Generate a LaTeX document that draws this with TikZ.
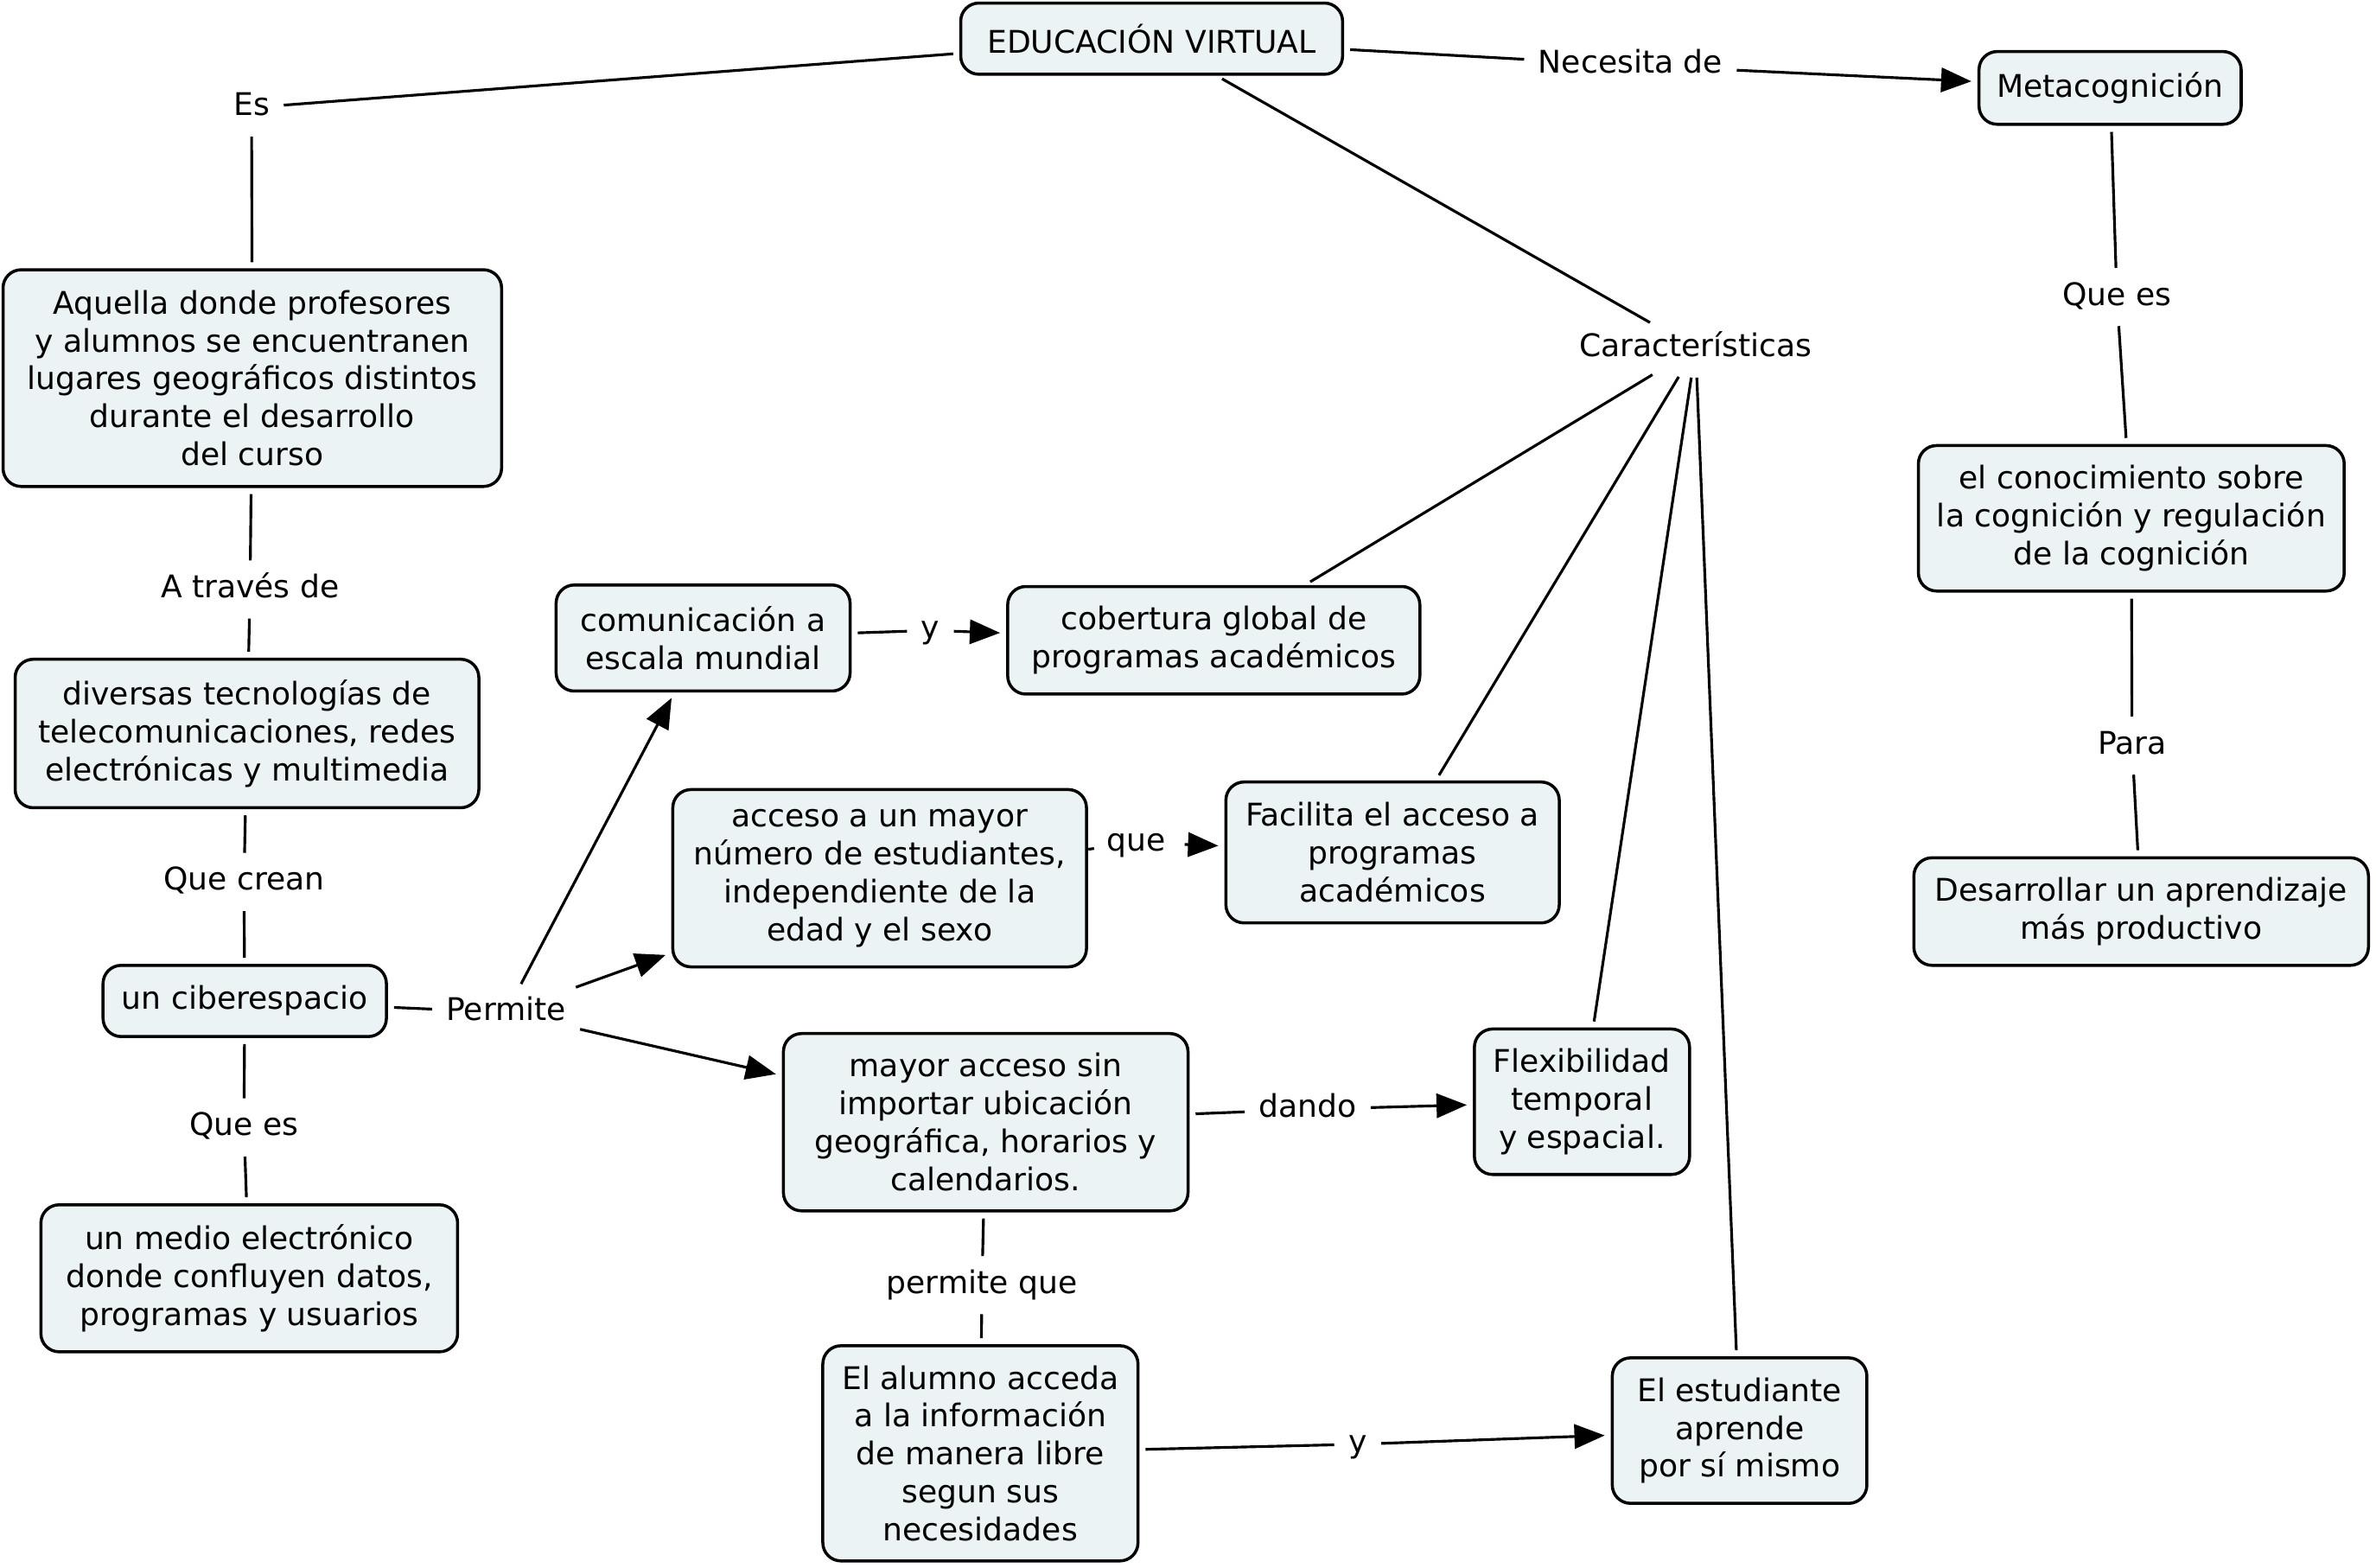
\documentclass[tikz,border=0pt]{standalone}
\usepackage{fontspec}
\setmainfont{DejaVu Sans}
\usetikzlibrary{arrows.meta}
\definecolor{boxfill}{RGB}{235,243,245}
\begin{document}
\begin{tikzpicture}[x=0.5pt,y=-0.5pt,
 box/.style={draw,line width=1pt,rounded corners=6pt,fill=boxfill,align=center,inner sep=0pt,font=\fontsize{10.3}{12.5}\selectfont},
 lab/.style={inner sep=2.5pt,font=\fontsize{10.3}{12.5}\selectfont,text height=7.6pt,text depth=2.2pt},
 conn/.style={line width=0.9pt,shorten <=2pt,shorten >=2pt},
 arr/.style={conn,-{Triangle[length=10pt,width=8pt]}}]
\useasboundingbox (0,0) rectangle (1568,1034.6);

% boxes
\node[box,minimum width=126pt,minimum height=23.5pt] (edu) at (760,25.5) {EDUCACIÓN VIRTUAL};
\node[box,minimum width=86.5pt,minimum height=24pt] (meta) at (1392.5,58) {Metacognición};
\node[box,minimum width=164.5pt,minimum height=71.5pt] (aquella) at (166.5,249.5) {Aquella donde profesores\\ y alumnos se encuentranen\\ lugares geográficos distintos\\ durante el desarrollo\\ del curso};
\node[box,minimum width=153pt,minimum height=49pt] (diversas) at (163,484) {diversas tecnologías de\\ telecomunicaciones, redes\\ electrónicas y multimedia};
\node[box,minimum width=93.5pt,minimum height=23.5pt] (ciber) at (161.5,660.5) {un ciberespacio};
\node[box,minimum width=137.5pt,minimum height=48.5pt] (medio) at (164.5,843.5) {un medio electrónico\\ donde confluyen datos,\\ programas y usuarios};
\node[box,minimum width=97pt,minimum height=35pt] (comun) at (464,421) {comunicación a\\ escala mundial};
\node[box,minimum width=136pt,minimum height=35.5pt] (cobert) at (801,422.5) {cobertura global de\\ programas académicos};
\node[box,minimum width=136.5pt,minimum height=58.5pt] (acceso) at (580.5,579.5) {acceso a un mayor\\ número de estudiantes,\\ independiente de la\\ edad y el sexo};
\node[box,minimum width=110pt,minimum height=46.5pt] (facilita) at (919,562.5) {Facilita el acceso a\\ programas\\ académicos};
\node[box,minimum width=133.5pt,minimum height=58.5pt] (mayor) at (650.5,740.5) {mayor acceso sin\\ importar ubicación\\ geográfica, horarios y\\ calendarios.};
\node[box,minimum width=71pt,minimum height=48pt] (flex) at (1044,727) {Flexibilidad\\ temporal\\ y espacial.};
\node[box,minimum width=104pt,minimum height=71pt] (alumno) at (647,959) {El alumno acceda\\ a la información\\ de manera libre\\ segun sus\\ necesidades};
\node[box,minimum width=84pt,minimum height=48pt] (estud) at (1148,944) {El estudiante\\ aprende\\ por sí mismo};
\node[box,minimum width=140.5pt,minimum height=48pt] (conoc) at (1406.5,342) {el conocimiento sobre\\ la cognición y regulación\\ de la cognición};
\node[box,minimum width=150pt,minimum height=35.5pt] (desarr) at (1413,601.5) {Desarrollar un aprendizaje\\ más productivo};

% labels
\node[lab] (es) at (166,71) {Es};
\node[lab] (necesita) at (1076,43) {Necesita de};
\node[lab] (caract) at (1119,230) {Características};
\node[lab] (quees1) at (1397,196) {Que es};
\node[lab] (para) at (1407,492) {Para};
\node[lab] (atraves) at (165,389) {A través de};
\node[lab] (quecrean) at (161,582) {Que crean};
\node[lab] (permite) at (334,668) {Permite};
\node[lab] (quees2) at (161,744) {Que es};
\node[lab] (y1) at (614,416) {y};
\node[lab,inner sep=4pt] (que) at (750,556) {que};
\node[lab] (dando) at (863,732) {dando};
\node[lab] (permq) at (648,848) {permite que};
\node[lab] (y2) at (896,953) {y};

% connectors
\draw[conn] (edu) -- (es);
\draw[conn] (es) -- (aquella);
\draw[conn] (edu) -- (necesita);
\draw[arr] (necesita) -- (meta);
\draw[conn] (edu) -- (caract);
\draw[conn] (caract) -- (cobert);
\draw[conn] (caract) -- (facilita);
\draw[conn] (caract) -- (flex);
\draw[conn] (caract) -- (estud);
\draw[conn] (meta) -- (quees1);
\draw[conn] (quees1) -- (conoc);
\draw[conn] (conoc) -- (para);
\draw[conn] (para) -- (desarr);
\draw[conn] (aquella) -- (atraves);
\draw[conn] (atraves) -- (diversas);
\draw[conn] (diversas) -- (quecrean);
\draw[conn] (quecrean) -- (ciber);
\draw[conn] (ciber) -- (quees2);
\draw[conn] (quees2) -- (medio);
\draw[conn] (ciber) -- (permite);
\draw[arr] (permite) -- (comun);
\draw[arr] (permite) -- (acceso);
\draw[arr] (permite) -- (mayor);
\draw[conn] (comun) -- (y1);
\draw[arr] (y1) -- (cobert);
\draw[conn] (acceso) -- (que);
\draw[arr] (que) -- (facilita);
\draw[conn] (mayor) -- (dando);
\draw[arr] (dando) -- (flex);
\draw[conn] (mayor) -- (permq);
\draw[conn] (permq) -- (alumno);
\draw[conn] (alumno) -- (y2);
\draw[arr] (y2) -- (estud);
\end{tikzpicture}
\end{document}
